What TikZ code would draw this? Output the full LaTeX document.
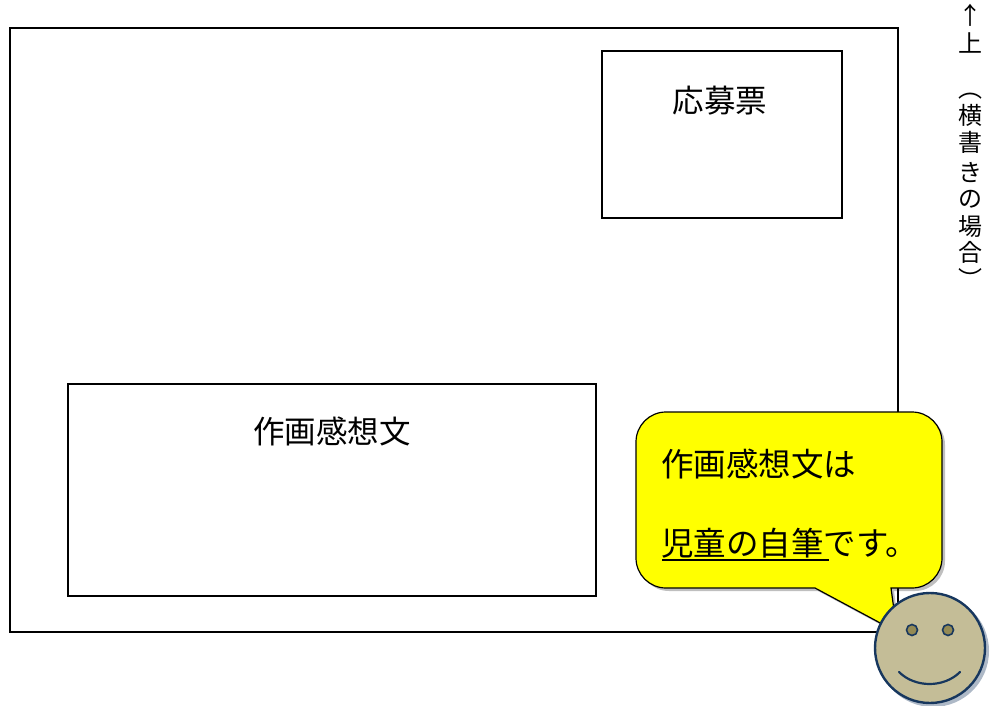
\documentclass[tikz,border=0pt]{standalone}
\usepackage{fontspec}
\setmainfont{Noto Sans CJK JP}
\newfontfamily\cjkfont{Noto Sans CJK JP}
\definecolor{calloutyellow}{HTML}{FFFF00}
\definecolor{smileyfill}{HTML}{C4BD97}
\definecolor{smileyline}{HTML}{17375E}
\definecolor{eyefill}{HTML}{948A54}
\tikzset{
  boxline/.style={draw=black, line width=1.8pt},
  outerline/.style={draw=black, line width=1.4pt},
  boxlabel/.style={font=\cjkfont\fontsize{31.5}{36}\selectfont, inner sep=0pt, text height=27.7pt, text depth=3.8pt},
  calltext/.style={font=\cjkfont\fontsize{32.5}{38}\selectfont, inner sep=0pt, anchor=west, text height=28.6pt, text depth=3.9pt},
  vchar/.style={font=\cjkfont\fontsize{24}{28}\selectfont, inner sep=0pt, text height=21.1pt, text depth=2.9pt},
}
\begin{document}
\begin{tikzpicture}[x=1pt,y=1pt]
\useasboundingbox (0,0) rectangle (992,705);
% outer card
\draw[outerline] (10,73) rectangle (898,677);
% entry form box
\draw[boxline] (602,487) rectangle (842,654);
\node[boxlabel] (oubo) at (720,604) {応募票};
% essay box
\draw[boxline] (68,109) rectangle (596,321);
\node[boxlabel] (sakubun) at (332,273) {作画感想文};
% callout shadow
\fill[black, opacity=0.25, shift={(3,-3)}]
  (815,117) -- (666,117) arc[start angle=270, end angle=180, radius=30]
  -- (636,263) arc[start angle=180, end angle=90, radius=30]
  -- (912,293) arc[start angle=90, end angle=0, radius=30]
  -- (942,147) arc[start angle=0, end angle=-90, radius=30]
  -- (891,117) -- (897,73) -- cycle;
% callout
\draw[fill=calloutyellow, draw=black, line width=1.2pt]
  (815,117) -- (666,117) arc[start angle=270, end angle=180, radius=30]
  -- (636,263) arc[start angle=180, end angle=90, radius=30]
  -- (912,293) arc[start angle=90, end angle=0, radius=30]
  -- (942,147) arc[start angle=0, end angle=-90, radius=30]
  -- (891,117) -- (897,73) -- cycle;
\node[calltext] (line1) at (661,241) {作画感想文は};
\node[calltext] (line2) at (661,162) {児童の自筆です。};
\coordinate (ulA) at (662,145);
\coordinate (ulB) at (829,145);
\draw[line width=2.4pt] (ulA) -- (ulB);
% smiley shadow
\fill[smileyline, opacity=0.35] (933,54) circle[radius=56];
% smiley
\draw[fill=smileyfill, draw=smileyline, line width=2.4pt] (930,57) circle[radius=55];
\draw[fill=eyefill, draw=smileyline, line width=1.6pt] (912,75) circle[radius=5.5];
\draw[fill=eyefill, draw=smileyline, line width=1.6pt] (948,75) circle[radius=5.5];
\coordinate (mouthL) at (899,33);
\coordinate (mouthR) at (960,33);
\draw[smileyline, line width=2.2pt, line cap=round] (mouthL) .. controls (915,17) and (944,17) .. (mouthR);
% vertical note
\node[vchar] (v1) at (970,690) {↑};
\node[vchar] (v2) at (970,662) {上};
\node[vchar] (v3) at (970,617) {︵};
\node[vchar] (v4) at (970,590) {横};
\node[vchar] (v5) at (970,563) {書};
\node[vchar] (v6) at (970,533) {き};
\node[vchar] (v7) at (970,507) {の};
\node[vchar] (v8) at (970,479) {場};
\node[vchar] (v9) at (970,453) {合};
\node[vchar] (v10) at (970,426) {︶};
\end{tikzpicture}
\end{document}
